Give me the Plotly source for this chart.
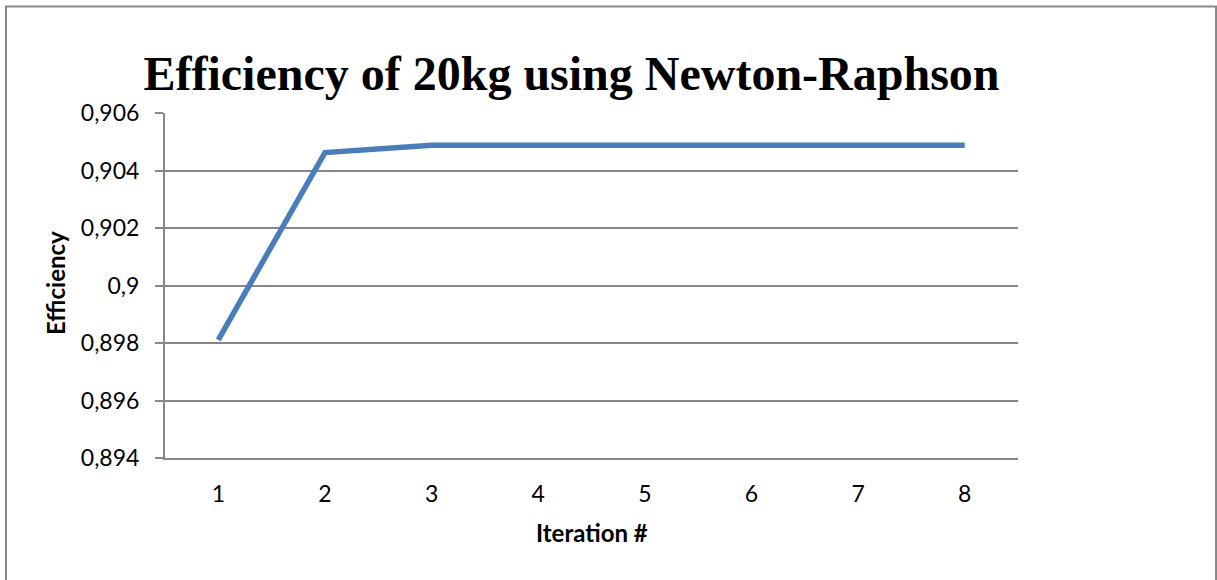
import plotly.graph_objects as go

# Newton-Raphson iterations and the efficiency obtained at each step
iterations = [1, 2, 3, 4, 5, 6, 7, 8]
efficiency = [0.89811, 0.904625, 0.90488, 0.90488, 0.90488, 0.90488, 0.90488, 0.90488]

# y-axis ticks, written with a decimal comma
ytick_vals = [0.894, 0.896, 0.898, 0.900, 0.902, 0.904, 0.906]
ytick_text = ["0,894", "0,896", "0,898", "0,9", "0,902", "0,904", "0,906"]

W, H = 1217, 580
L, R, T, B = 165, 199, 112.7, 121.7
pw, ph = W - L - R, H - T - B

grid = "#878787"
label_font = dict(family="Lato, Calibri, sans-serif", size=23, color="#000000")
title_font = dict(family="Lato, Calibri, sans-serif", size=24, color="#000000")


def px_x(p):
    return (p - L) / pw


def px_y(p):
    return (H - B - p) / ph


fig = go.Figure()
fig.add_trace(go.Scatter(
    x=iterations,
    y=efficiency,
    mode="lines",
    line=dict(color="#4A7EBB", width=5.5),
    showlegend=False,
    hoverinfo="x+y",
))

fig.update_layout(
    width=W,
    height=H,
    margin=dict(l=L, r=R, t=T, b=B, pad=0),
    paper_bgcolor="white",
    plot_bgcolor="white",
    title=dict(
        text="<b>Efficiency of 20kg using Newton-Raphson</b>",
        font=dict(family="Liberation Serif, Times New Roman, serif", size=48, color="#000000"),
        xref="container", x=571.5 / W, xanchor="center",
        yref="container", y=1 - 73 / H, yanchor="middle",
    ),
    xaxis=dict(
        range=[0.5, 8.5],
        tickmode="array",
        tickvals=iterations,
        ticktext=[str(i) for i in iterations],
        ticks="",
        showgrid=False,
        showline=True,
        linecolor=grid,
        linewidth=2,
        tickfont=label_font,
        ticklabelstandoff=14,
        zeroline=False,
        fixedrange=True,
    ),
    yaxis=dict(
        range=[0.894, 0.906],
        tickmode="array",
        tickvals=ytick_vals,
        ticktext=ytick_text,
        ticks="outside",
        ticklen=8,
        tickwidth=2,
        tickcolor=grid,
        showgrid=True,
        gridcolor=grid,
        gridwidth=2,
        showline=True,
        linecolor=grid,
        linewidth=2,
        tickfont=label_font,
        ticklabelstandoff=11,
        zeroline=False,
        fixedrange=True,
    ),
    annotations=[
        dict(
            text="<b>Iteration #</b>",
            font=title_font,
            xref="paper", yref="paper",
            x=px_x(591.5), y=px_y(533),
            xanchor="center", yanchor="middle",
            showarrow=False,
        ),
        dict(
            text="<b>Efficiency</b>",
            font=title_font,
            textangle=-90,
            xref="paper", yref="paper",
            x=px_x(55), y=px_y(283),
            xanchor="center", yanchor="middle",
            showarrow=False,
        ),
    ],
    shapes=[
        # chart frame
        dict(
            type="rect",
            xref="paper", yref="paper",
            x0=px_x(6), x1=px_x(1216),
            y0=px_y(640), y1=px_y(6),
            line=dict(color=grid, width=2),
            fillcolor="rgba(0,0,0,0)",
            layer="below",
        ),
    ],
)

fig.write_html("out.html")
